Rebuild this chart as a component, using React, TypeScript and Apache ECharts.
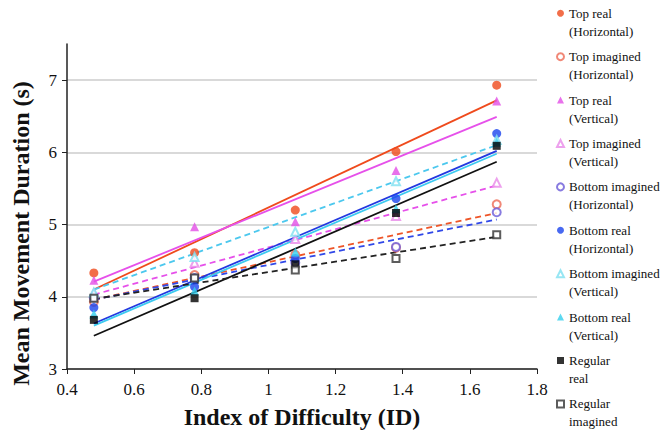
import React, { useEffect, useRef } from 'react';
import * as echarts from 'echarts';

const FONT = '"Liberation Serif", "DejaVu Serif", serif';

// Index of difficulty (x)
const ids = [0.48, 0.78, 1.08, 1.38, 1.68];
const trendIds = [0.48, 1.68];

// legend / series names
const names = [
  'Top real\n(Horizontal)',
  'Top imagined\n(Horizontal)',
  'Top real\n(Vertical)',
  'Top imagined\n(Vertical)',
  'Bottom imagined\n(Horizontal)',
  'Bottom real\n(Horizontal)',
  'Bottom imagined\n(Vertical)',
  'Bottom real\n(Vertical)',
  'Regular\nreal',
  'Regular\nimagined',
];

// mean movement durations (s)
const topRealH = [4.33, 4.61, 5.2, 6.01, 6.93];
const topImaginedH = [3.93, 4.3, 4.58, 4.68, 5.28];
const topRealV = [4.23, 4.97, 5.04, 5.75, 6.71];
const topImaginedV = [4.05, 4.47, 4.8, 5.12, 5.58];
const bottomImaginedH = [3.99, 4.26, 4.47, 4.69, 5.17];
const bottomRealH = [3.85, 4.14, 4.53, 5.36, 6.26];
const bottomImaginedV = [4.06, 4.55, 4.9, 5.6, 6.17];
const bottomRealV = [3.76, 4.08, 4.62, 5.22, 6.14];
const regularReal = [3.68, 3.98, 4.45, 5.16, 6.09];
const regularImagined = [3.98, 4.26, 4.37, 4.53, 4.86];

// linear trend lines, value at ID 0.48 and at ID 1.68
const trendTopRealH = [4.1, 6.72];
const trendTopImaginedH = [3.96, 5.16];
const trendTopRealV = [4.21, 6.49];
const trendTopImaginedV = [4.03, 5.54];
const trendBottomImaginedH = [3.96, 5.07];
const trendBottomRealH = [3.63, 6.02];
const trendBottomImaginedV = [4.1, 6.1];
const trendBottomRealV = [3.6, 5.98];
const trendRegularReal = [3.46, 5.87];
const trendRegularImagined = [3.97, 4.83];

const xTicks = [0.4, 1.8];
const yTicks = [3, 4, 5, 6, 7];

type Spec = {
  values: number[];
  trend: number[];
  symbol: string;
  markerColor: string;
  lineColor: string;
  dashed: boolean;
  size: number;
};

const specs: Spec[] = [
  { values: topRealH, trend: trendTopRealH, symbol: 'circle', markerColor: '#ef4a1c', lineColor: '#ef4a1c', dashed: false, size: 9 },
  { values: topImaginedH, trend: trendTopImaginedH, symbol: 'emptyCircle', markerColor: '#ee6a55', lineColor: '#ee5528', dashed: true, size: 8 },
  { values: topRealV, trend: trendTopRealV, symbol: 'triangle', markerColor: '#e24ee6', lineColor: '#e650ea', dashed: false, size: 9 },
  { values: topImaginedV, trend: trendTopImaginedV, symbol: 'emptyTriangle', markerColor: '#e98ae9', lineColor: '#e650ea', dashed: true, size: 8 },
  { values: bottomImaginedH, trend: trendBottomImaginedH, symbol: 'emptyCircle', markerColor: '#6a5ad8', lineColor: '#3048e8', dashed: true, size: 8 },
  { values: bottomRealH, trend: trendBottomRealH, symbol: 'circle', markerColor: '#1a44ee', lineColor: '#2238e0', dashed: false, size: 9 },
  { values: bottomImaginedV, trend: trendBottomImaginedV, symbol: 'emptyTriangle', markerColor: '#7ee0f0', lineColor: '#4cc8ee', dashed: true, size: 8 },
  { values: bottomRealV, trend: trendBottomRealV, symbol: 'triangle', markerColor: '#35d0ee', lineColor: '#3ccaf0', dashed: false, size: 9 },
  { values: regularReal, trend: trendRegularReal, symbol: 'rect', markerColor: '#000000', lineColor: '#111111', dashed: false, size: 8 },
  { values: regularImagined, trend: trendRegularImagined, symbol: 'emptyRect', markerColor: '#333333', lineColor: '#222222', dashed: true, size: 7 },
];

export default function App() {
  const ref = useRef<HTMLDivElement>(null);
  useEffect(() => {
    if (!ref.current) return;
    const chart = echarts.init(ref.current, null, { renderer: 'svg' });

    const lineSeries = specs.map((s, i) => ({
      type: 'line',
      name: names[i] + ' trend',
      data: trendIds.map((x, k) => [x, s.trend[k]]),
      symbol: 'none',
      lineStyle: { color: s.lineColor, width: 1.8, type: s.dashed ? [6, 4] : 'solid' },
      z: 2,
      silent: true,
    }));
    const scatterSeries = specs.map((s, i) => ({
      type: 'scatter',
      name: names[i],
      data: ids.map((x, k) => [x, s.values[k]]),
      symbol: s.symbol,
      symbolSize: s.size,
      itemStyle: { color: s.markerColor, borderColor: s.markerColor, borderWidth: s.symbol.startsWith('empty') ? 1 : 0 },
      z: 3,
    }));

    chart.setOption({
      animation: false,
      backgroundColor: '#ffffff',
      grid: { left: 67, right: 129, top: 44, bottom: 72 },
      legend: {
        orient: 'vertical',
        left: 551,
        top: -18.7,
        height: 1000,
        itemWidth: 7,
        itemHeight: 7,
        itemGap: -10.6,
        data: names,
        // a leading empty line puts the first text line level with the marker
        formatter: (name: string) => '\n' + name,
        textStyle: { fontFamily: FONT, fontSize: 13, lineHeight: 18, color: '#111' },
      },
      xAxis: {
        type: 'value',
        min: xTicks[0],
        max: xTicks[1],
        interval: 0.2,
        name: 'Index of Difficulty (ID)',
        nameLocation: 'middle',
        nameGap: 36,
        nameTextStyle: { fontFamily: FONT, fontSize: 24, fontWeight: 'bold', color: '#111' },
        axisLine: { lineStyle: { color: '#222', width: 1.5 } },
        axisTick: { show: true, inside: false, length: 5, lineStyle: { color: '#222' } },
        axisLabel: { fontFamily: FONT, fontSize: 17, color: '#111', margin: 12 },
        splitLine: { show: false },
      },
      yAxis: {
        type: 'value',
        min: yTicks[0],
        max: 7.5,
        interval: 1,
        name: 'Mean Movement Duration (s)',
        nameLocation: 'middle',
        nameGap: 34,
        nameRotate: 90,
        nameTextStyle: { fontFamily: FONT, fontSize: 24, fontWeight: 'bold', color: '#111', padding: [0, 54, 0, 0] },
        axisLine: { show: true, lineStyle: { color: '#222', width: 1.5 } },
        axisTick: { show: true, inside: false, length: 5, lineStyle: { color: '#222' }, customValues: yTicks },
        axisLabel: { fontFamily: FONT, fontSize: 17, color: '#111', margin: 10, customValues: yTicks },
        splitLine: { show: true, lineStyle: { color: ['#cccccc', '#cccccc', '#cccccc', '#cccccc', '#cccccc', 'rgba(0,0,0,0)'], width: 1.5 } },
      },
      series: [...lineSeries, ...scatterSeries],
    });
    return () => chart.dispose();
  }, []);
  return <div ref={ref} style={{ width: 666, height: 441, position: 'absolute', left: 0, top: 0 }} />;
}
